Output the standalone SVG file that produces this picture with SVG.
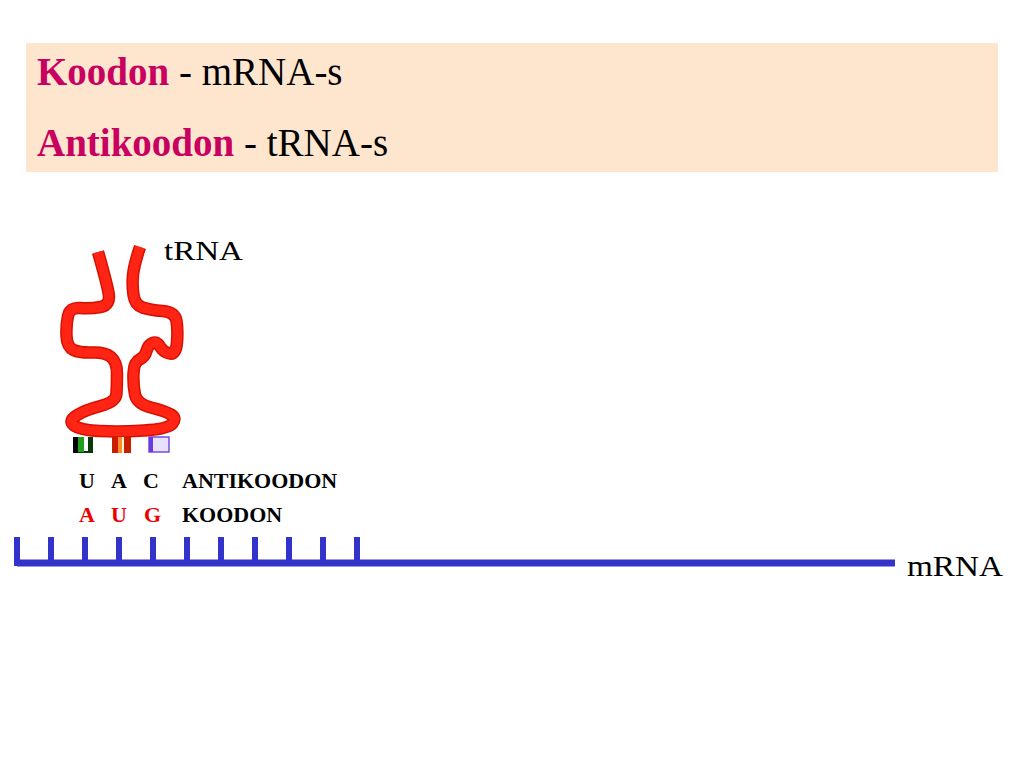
<svg xmlns="http://www.w3.org/2000/svg" width="1024" height="768" viewBox="0 0 1024 768">
<style>
.serif{font-family:"Liberation Serif","Times New Roman",serif}
.hl{font-size:39px}
.mag{fill:#C8005F;font-weight:bold}
.blk{fill:#000}
.sm{font-size:22px;font-weight:bold}
.red{fill:#EE0000}
.tick{stroke:#3333CC;stroke-width:6;fill:none}
.tube{fill:none;stroke-linejoin:round}
</style>
<defs>
<path id="tubePath" d="M98,252 Q106,280 108.5,292.5 Q111,305 100.5,307 Q90,309 80,308 Q70,307 68,316 Q66,325 66.5,336 Q67,347 73.5,350 Q80,353 92.5,352.5 Q105,352 111,357 Q117,362 117,373.5 Q117,385 116.5,393.5 Q116,402 100.5,406 Q85,410 76.5,415.5 Q68,421 74,425.5 Q80,430 100,431 Q120,432 144,430.5 Q168,429 172.5,423.5 Q177,418 171,414.5 Q165,411 151,407.5 Q137,404 135,394.5 Q133,385 133.5,373.5 Q134,362 139.5,359.5 Q145,357 146.5,351 Q148,345 152.5,343 Q157,341 160,346.5 Q163,352 169.5,353.5 Q176,355 177,342.5 Q178,330 176.5,321 Q175,312 162.5,311 Q150,310 142.5,307.5 Q135,305 133.5,295 Q132,285 133,275 Q134,265 140,247"/>
</defs>
<rect width="1024" height="768" fill="#FFFFFF"/>
<g id="header">
<rect x="26" y="43" width="972" height="129" fill="#FDE5CE"/>
<text class="serif hl" x="37" y="85"><tspan class="mag">Koodon</tspan><tspan class="blk"> - mRNA-s</tspan></text>
<text class="serif hl" x="37" y="156"><tspan class="mag">Antikoodon</tspan><tspan class="blk"> - tRNA-s</tspan></text>
</g>
<g id="trna">
<use href="#tubePath" class="tube" stroke="#D81000" stroke-width="12.5"/>
<use href="#tubePath" class="tube" stroke="#FF2414" stroke-width="9.5"/>
<g id="base-green">
<rect x="73" y="437" width="20" height="16" fill="#0A3A0A"/>
<rect x="73" y="437" width="5" height="16" fill="#000"/>
<rect x="78" y="437" width="6" height="15" fill="#1FA01F"/>
<rect x="84" y="437" width="4" height="14" fill="#FFFFFF"/>
</g>
<g id="base-red">
<rect x="112" y="437" width="19" height="16" fill="#C81E00"/>
<rect x="118" y="437" width="4" height="16" fill="#FF8A30"/>
<rect x="122" y="437" width="2" height="16" fill="#FFF0D0"/>
</g>
<g id="base-purple">
<rect x="149" y="437" width="20" height="15" fill="#E8E0FF" stroke="#7A4CE0" stroke-width="1.5"/>
<rect x="149" y="437" width="4" height="15" fill="#6A3CE0"/>
</g>
<text class="serif" x="164" y="260" font-size="28" textLength="79" lengthAdjust="spacingAndGlyphs">tRNA</text>
</g>
<g id="labels">
<text class="serif sm blk" x="79" y="488">U</text>
<text class="serif sm blk" x="111" y="488">A</text>
<text class="serif sm blk" x="143" y="488">C</text>
<text class="serif sm blk" x="182" y="488">ANTIKOODON</text>
<text class="serif sm red" x="79" y="522">A</text>
<text class="serif sm red" x="111" y="522">U</text>
<text class="serif sm red" x="144" y="522">G</text>
<text class="serif sm blk" x="182" y="522">KOODON</text>
</g>
<g id="mrna">
<line x1="17" y1="563" x2="895" y2="563" stroke="#3333CC" stroke-width="7"/>
<path class="tick" d="M17,537V566 M51,537V563 M85,537V563 M119,537V563 M153,537V563 M187,537V563 M221,537V563 M255,537V563 M289,537V563 M323,537V563 M357,537V563"/>
<text class="serif" x="907" y="576" font-size="29" textLength="96" lengthAdjust="spacingAndGlyphs">mRNA</text>
</g>
</svg>
